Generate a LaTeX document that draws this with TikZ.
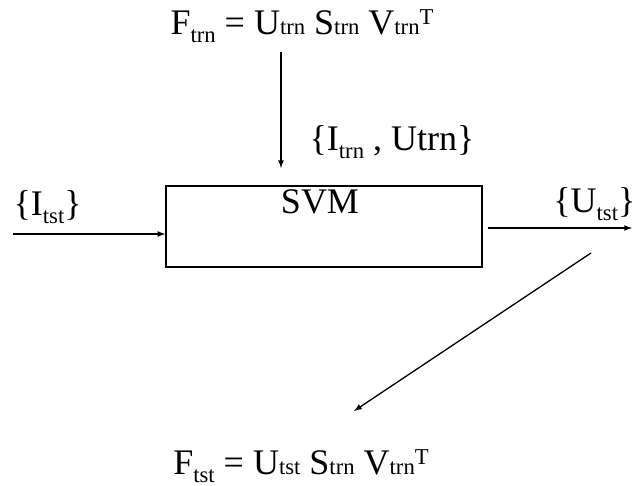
\documentclass[tikz,border=0pt]{standalone}
\usepackage{fontspec}
\setmainfont{Liberation Serif}
\usetikzlibrary{shapes,backgrounds,arrows}

\newcommand{\lo}[1]{{\fontsize{17}{19}\selectfont #1}}
\newcommand{\dn}[1]{\raisebox{-6.5pt}{\lo{#1}}}
\newcommand{\up}[1]{\raisebox{7pt}{\lo{#1}}}

\begin{document}
\begin{tikzpicture}[x=0.75pt, y=-0.75pt, >=latex, line width=1pt,
		every node/.style={font=\fontsize{27}{31}\selectfont, inner sep=0pt}]
			\useasboundingbox (0, 0) rectangle (637, 486);
			\coordinate (trnstart) at (281, 52);
			\coordinate (trnend) at (281, 168);
			\coordinate (tststart) at (13, 234);
			\coordinate (outend) at (632, 228);
			\coordinate (diagstart) at (591, 253);
			\coordinate (diagend) at (354, 411);

			\node[draw, minimum width=316*0.75pt, minimum height=81*0.75pt] (svm) at (324, 226.5) {};
			\node[anchor=base] (svmtext) at (320, 213) {SVM};

			\node[anchor=base] (ftrn) at (302, 34) {F\dn{trn} = U\lo{trn} S\lo{trn} V\lo{trn}\up{T}};
			\node[anchor=base] (ftst) at (301, 474) {F\dn{tst} = U\lo{tst} S\lo{trn} V\lo{trn}\up{T}};
			\node[anchor=base west] (itrn) at (309, 150) {\{I\dn{trn} , Utrn\}};
			\node[anchor=base west] (itst) at (13, 215) {\{I\dn{tst}\}};
			\node[anchor=base east] (utst) at (636, 212) {\{U\dn{tst}\}};

			\draw[->] (trnstart) -- (trnend);
			\draw[->] (tststart) -- (tststart -| svm.west);
			\draw[->] (outend -| svm.east) ++ (5, 0) -- (outend);
			\draw[->] (diagstart) -- (diagend);
			%\draw (svm.south) -- (diagend);
\end{tikzpicture}
\end{document}
